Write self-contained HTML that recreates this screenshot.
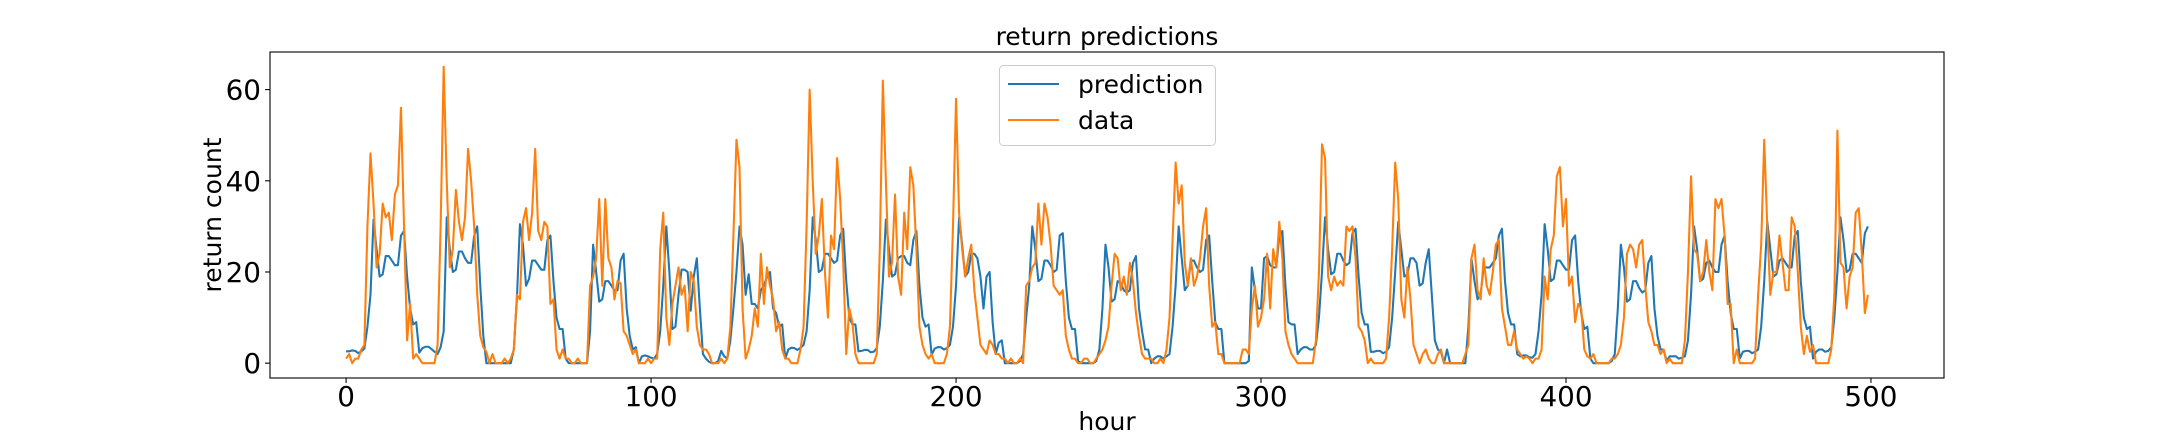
<!DOCTYPE html>
<html><head><meta charset="utf-8"><style>
html,body{margin:0;padding:0;background:#fff;}
svg{display:block;font-family:"DejaVu Sans","Liberation Sans",sans-serif;}
</style></head><body>
<svg id="chart" width="2160" height="432" viewBox="0 0 2160 432">
<rect width="2160" height="432" fill="#fff"/>
<g id="plot"></g>
<g id="axes"></g>
<text x="1107" y="45" font-size="25" text-anchor="middle" fill="#000">return predictions</text>
<text x="1107" y="430" font-size="25" text-anchor="middle" fill="#000">hour</text>
<text x="0" y="0" font-size="25" text-anchor="middle" fill="#000" transform="translate(221,215) rotate(-90)">return count</text>
<g>
<rect x="999.5" y="65.5" width="216" height="80" rx="4" fill="#fff" fill-opacity="0.8" stroke="#cccccc"/>
<line x1="1008" y1="84" x2="1059" y2="84" stroke="#1f77b4" stroke-width="2.08"/>
<text x="1078" y="93" font-size="25" fill="#000">prediction</text>
<line x1="1008" y1="120" x2="1059" y2="120" stroke="#ff7f0e" stroke-width="2.08"/>
<text x="1078" y="129" font-size="25" fill="#000">data</text>
</g>
</svg>
<script>
const xTicks = [0, 100, 200, 300, 400, 500];
const yTicks = [0, 20, 40, 60];
const prediction = [
2.6,2.6,2.8,2.7,2.2,2.6,3.2,8,15,31.5,
25,19,19.5,23.5,23.5,22.5,21.5,21.5,28,29,
19,12,8.5,9,2.3,3.3,3.6,3.6,3.1,2.5,
2,3.5,7,32,25,20,20.5,24.5,24.5,23,
22,22,28,30,17,6,0,0,0,0,
0,0,0,0,0,3,14,30.5,26,17,
18.5,22.5,22.5,21.5,20.5,20.5,27,28,18,10,
7.5,7.5,1,0,0,0,0,0,0,0,
7,26,20,13.5,14,18,18,17,16,16,
22.5,24,12,6,3,3.5,0,1.5,1.7,1.5,
1.2,1,2,7,17,30,20,7.5,8,15,
20.5,20.5,20,11.5,19,23,12,2,1,0.3,
0,0,0.5,2.7,1.5,1,5,12,20,30,
26,15,19.5,13,13,12,16,17,19,20,
12,11,8,8.5,1,3,3.4,3.3,2.9,3.4,
4,7,16,32,27,20,20.5,24,24,23,
22,22.5,28,29.5,18,10,8.5,8.5,2.6,2.7,
2.9,2.9,2.4,2.5,3.3,8,18,31.5,25,19,
19.5,23,23.5,23.5,22,21.5,27,29,17,10,
8,8.5,1.9,3.2,3.5,3.5,3,3.3,4,8,
17,32,26,19,20,24,24,23,19,12,
19,20,9,2,4.5,5,0,0,0,0,
0,0.5,2,10,17,30,25,18,18.5,22.5,
22.5,21.5,20,20.5,28,28.5,18,10,7.5,7.5,
0.5,0,0,0,0,0,0.5,3,12,26,
21,13.5,14,18,17.5,16,15.5,16,22,23.5,
12,7,3,3,0,1,1.5,1.5,1,1.5,
2,8,17,30,23,16,17,22.5,22.5,21,
20,20.5,27,28,18,9,7.5,7.5,0,0,
0,0,0,0,0,0,0.5,21,16,12,
12,23,23.5,21.5,21,21,28,29,17,9,
8.5,8.5,2,3,3.5,3.5,3,3,4,10,
20,32,25,19.5,20,24,24,22.5,21.5,22,
28.5,29.5,19,11,8.5,8.5,2.5,2.5,2.7,2.7,
2.2,2.5,3.5,10,20,31,25,19,19.5,23,
23,22,17,17.5,22,25,15,5,3,2.5,
0,3,0,0,0,0,0,0,8,23,
18,14,15,21,21,21,22,23,28,29.5,
18,11,8.5,8.5,2,1.5,1.7,1.7,1.3,1.2,
2,7,15,30.5,25,18,18.5,22.5,22.5,21.5,
20.5,20.5,27,28,18,11,7.5,8,1,0,
0,0,0,0,0,0.5,2,12,26,21,
13.5,14,18,18,16.5,15.5,16,22,23.5,12,
6,3,3,0.5,1.5,1.5,1.5,1,1.2,1.5,
5,15,30,25,18,18.5,22,22.5,21,20,
20,26,28,18,11,7.5,7.5,1,2.5,2.7,
2.7,2.2,2.5,3,8,18,31,25,19,19.5,
22.5,23,22,21,21,28,29,18,10,7.5,
8,1,2.5,3,3,2.5,2.7,3.5,10,20,
32,27,20,20.5,24,24,23,22,28.5,30
];
const observed = [
1,2,0,1,1,3,4,30,46,35,
21,24,35,32,33,27,37,39,56,30,
5,13,1,2,1,0,0,0,0,0,
4,30,65,40,21,25,38,31,27,32,
47,40,30,15,6,3.5,2.5,0,2,0,
0,0,1,0,1,3,15,14,31,34,
27,33,47,29,27,31,30,13,14,3,
1,3,1,1,0,0,1,0,0,0,
17,19,23,36,17,36,23,21,14,18,
17.5,7,6,4,2,3,0,0,0,1,
0,1,1,25,33,10,4,13,17,21,
15,17,7,20,18,8,4,3,3,2,
0,0,0,1,0,1,8,28,49,43,
12,1,3,6,12,8,24,13,21,17,
14,7,9,3,1,1,0,0,0,3,
8,30,60,40,24,28,36,20,10,28,
25,45,36,22,2,12,9,2,0,0,
0,0,0,0,2,25,62,40,19,22,
37,19,15,33,25,43,39,25,8,4,
2,1,2,0,0,0,0,2,8,30,
58,33,25,19,23,26,16,10,4,3,
2,5,4,2,2,1,1,0,1,0,
0,1,0,17,18,21,22,35,26,35,
32,26,17,16,15,16,6,3,1,1,
0,0,1,1,0,0,1,2,3,5,
8,17,24,23,16,19,15,22,18,11,
6,2,1,1,1,0,0,1,0,3,
10,27,44,35,39,22,17,23,17,19,
23,30,34,17,8,9,2,2,0,0,
0,0,0,0,3,3,2,12,17,8,
10,14,24,12,25,21,31,23,7,4,
2,1,0,0,0,0,0,0,5,20,
48,45,19,16,19,17,18,17,30,29,
30,23,8,7,5,0,1,0,0,0,
0,1,10,25,44,36,14,10,21,14,
4,2,0,2,3,1,0,0,2,3,
0,0,0,0,0,0,0,2,4,23,
26,16,14,23,17,15,20,26,27,12,
8,4,4,7,3,2,1,1.5,1,0,
1,1,3,19,14,25,28,41,43,30,
36,17,19,9,13,12,3,1.5,1,2,
0,0,0,0,0,1,1,2,4,10,
24,26,25,21,26,27,17,9,7,4,
4,2,3,0,1,0,0,0,0,5,
20,41,25,24,18,20,27,20,16,36,
34,36,28,13,13,0,3,0,0,0,
0,0,1,15,26,49,30,15,20,20,
28,22,16,16,32,30,20,8,2,6,
2.5,4,0,0,0,0,0,3,15,51,
22,21,12,19,21,33,34,24,11,15
];

const NS = 'http://www.w3.org/2000/svg';
const L = 270, R = 1944, T = 52, B = 378;
const n = Math.max(prediction.length, observed.length);
const xMin = -0.05 * (n - 1), xMax = (n - 1) * 1.05;
const allV = prediction.concat(observed);
const vMin = Math.min.apply(null, allV), vMax = Math.max.apply(null, allV);
const yMin = vMin - 0.05 * (vMax - vMin), yMax = vMax + 0.05 * (vMax - vMin);
function sx(v) { return L + (v - xMin) / (xMax - xMin) * (R - L); }
function sy(v) { return B - (v - yMin) / (yMax - yMin) * (B - T); }

const plot = document.getElementById('plot');
const axes = document.getElementById('axes');

function series(arr, color, name) {
  const p = document.createElementNS(NS, 'polyline');
  p.setAttribute('points', arr.map((v, i) => sx(i).toFixed(2) + ',' + sy(v).toFixed(2)).join(' '));
  p.setAttribute('fill', 'none');
  p.setAttribute('stroke', color);
  p.setAttribute('stroke-width', '2.08');
  p.setAttribute('stroke-linejoin', 'round');
  
  
  plot.appendChild(p);
}
series(prediction, '#1f77b4', 'prediction-line');
series(observed, '#ff7f0e', 'data-line');

const frame = document.createElementNS(NS, 'rect');
frame.setAttribute('x', L); frame.setAttribute('y', T);
frame.setAttribute('width', R - L); frame.setAttribute('height', B - T);
frame.setAttribute('fill', 'none'); frame.setAttribute('stroke', '#000'); frame.setAttribute('stroke-width', '1.1');


axes.appendChild(frame);

xTicks.forEach(t => {
  const x = sx(t);
  const ln = document.createElementNS(NS, 'line');
  ln.setAttribute('x1', x); ln.setAttribute('x2', x); ln.setAttribute('y1', B); ln.setAttribute('y2', B + 4.9);
  ln.setAttribute('stroke', '#000'); ln.setAttribute('stroke-width', '1.1');
  
  
  axes.appendChild(ln);
  const tx = document.createElementNS(NS, 'text');
  tx.setAttribute('x', x); tx.setAttribute('y', 406);
  tx.setAttribute('font-size', '27.8'); tx.setAttribute('text-anchor', 'middle');
  tx.textContent = t;
  
  
  axes.appendChild(tx);
});
yTicks.forEach(t => {
  const y = sy(t);
  const ln = document.createElementNS(NS, 'line');
  ln.setAttribute('x1', L - 4.9); ln.setAttribute('x2', L); ln.setAttribute('y1', y); ln.setAttribute('y2', y);
  ln.setAttribute('stroke', '#000'); ln.setAttribute('stroke-width', '1.1');
  
  
  axes.appendChild(ln);
  const tx = document.createElementNS(NS, 'text');
  tx.setAttribute('x', L - 9); tx.setAttribute('y', y + 10);
  tx.setAttribute('font-size', '27.8'); tx.setAttribute('text-anchor', 'end');
  tx.textContent = t;
  
  
  axes.appendChild(tx);
});
</script>
</body></html>
